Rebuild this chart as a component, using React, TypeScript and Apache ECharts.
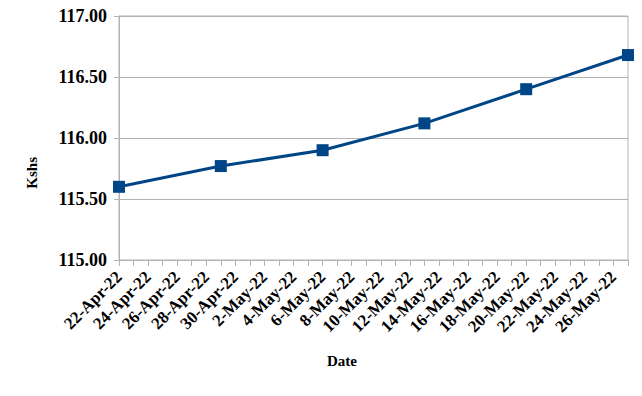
import React, { useEffect, useRef } from "react";
import * as echarts from "echarts";

const categories = [
  "22-Apr-22", "23-Apr-22", "24-Apr-22", "25-Apr-22", "26-Apr-22", "27-Apr-22",
  "28-Apr-22", "29-Apr-22", "30-Apr-22", "1-May-22", "2-May-22", "3-May-22",
  "4-May-22", "5-May-22", "6-May-22", "7-May-22", "8-May-22", "9-May-22",
  "10-May-22", "11-May-22", "12-May-22", "13-May-22", "14-May-22", "15-May-22",
  "16-May-22", "17-May-22", "18-May-22", "19-May-22", "20-May-22", "21-May-22",
  "22-May-22", "23-May-22", "24-May-22", "25-May-22", "26-May-22", "27-May-22",
];

const pointDates = ["22-Apr-22", "29-Apr-22", "6-May-22", "13-May-22", "20-May-22", "27-May-22"];
const pointValues = [115.6, 115.77, 115.9, 116.12, 116.4, 116.68];

const yTicks = { min: 115, max: 117, interval: 0.5 };

const FONT = "Liberation Serif";

export default function App() {
  const ref = useRef<HTMLDivElement>(null);
  useEffect(() => {
    if (!ref.current) return;
    const chart = echarts.init(ref.current, undefined, { renderer: "svg" });
    chart.setOption({
      animation: false,
      backgroundColor: "#ffffff",
      grid: {
        left: 119,
        right: 14,
        top: 16,
        bottom: 136,
        show: true,
        borderColor: "#b3b3b3",
        borderWidth: 1,
      },
      xAxis: {
        type: "category",
        data: categories,
        boundaryGap: false,
        axisLine: { show: true, lineStyle: { color: "#b3b3b3", width: 1 } },
        axisTick: { show: true, interval: 0, length: 6, lineStyle: { color: "#b3b3b3" } },
        splitLine: { show: false },
        axisLabel: {
          interval: 1,
          rotate: 45,
          margin: 14,
          color: "#000000",
          fontFamily: FONT,
          fontWeight: "bold",
          fontSize: 17,
        },
      },
      yAxis: {
        type: "value",
        min: yTicks.min,
        max: yTicks.max,
        interval: yTicks.interval,
        axisLine: { show: true, lineStyle: { color: "#b3b3b3", width: 1 } },
        axisTick: { show: true, length: 5, lineStyle: { color: "#b3b3b3" } },
        splitLine: { show: true, lineStyle: { color: "#b3b3b3", width: 1 } },
        axisLabel: {
          margin: 12,
          color: "#000000",
          fontFamily: FONT,
          fontWeight: "bold",
          fontSize: 18,
          formatter: (v: number) => v.toFixed(2),
        },
      },
      graphic: [
        {
          type: "text",
          left: 24,
          top: 157,
          rotation: Math.PI / 2,
          style: {
            text: "Kshs",
            fill: "#000000",
            fontFamily: FONT,
            fontWeight: "bold",
            fontSize: 15,
          },
        },
        {
          type: "text",
          left: 327,
          top: 353,
          style: {
            text: "Date",
            fill: "#000000",
            fontFamily: FONT,
            fontWeight: "bold",
            fontSize: 15,
          },
        },
      ],
      series: [
        {
          type: "line",
          data: pointDates.map((d, i) => [d, pointValues[i]]),
          symbol: "rect",
          symbolSize: 12,
          showSymbol: true,
          showAllSymbol: true,
          lineStyle: { color: "#004586", width: 3 },
          itemStyle: { color: "#004586" },
          connectNulls: true,
        },
      ],
    });
    return () => chart.dispose();
  }, []);
  return (
    <div
      ref={ref}
      style={{ position: "fixed", left: 0, top: 0, width: 642, height: 396 }}
    />
  );
}
